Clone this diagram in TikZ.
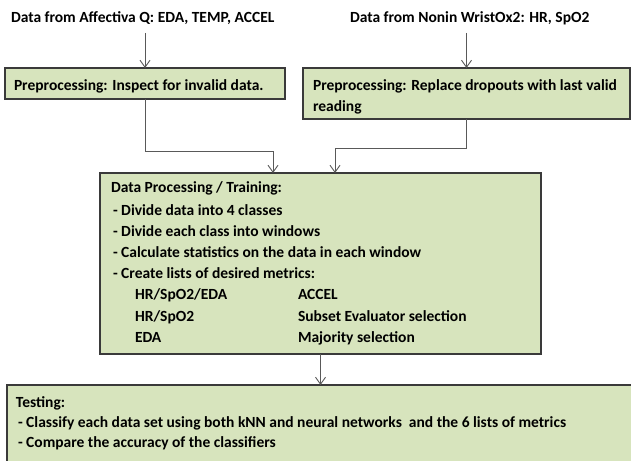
\documentclass[tikz,border=0pt]{standalone}
\usepackage{fontspec}
\setmainfont{Carlito}
\usetikzlibrary{arrows.meta,shadows}
\definecolor{boxfill}{HTML}{D7E4BD}
\definecolor{boxline}{HTML}{3A3A3A}
\definecolor{arrline}{HTML}{595959}
\tikzset{
  box/.style={draw=boxline, line width=1.1pt, fill=boxfill, inner sep=0pt, outer sep=0pt, anchor=north west,
    drop shadow={shadow xshift=0.6pt, shadow yshift=-1.2pt, fill=black!50, opacity=1}},
  txt/.style={inner sep=0pt, outer sep=0pt, anchor=base west, font=\fontsize{15.5}{18}\selectfont\bfseries, text=black},
  arr/.style={draw=arrline, line width=1pt, -{Straight Barb[length=7pt,width=10pt,line width=0.9pt]}},
  con/.style={draw=arrline, line width=1pt}
}
\begin{document}
\begin{tikzpicture}[x=1pt,y=-1pt]
\useasboundingbox (0,0) rectangle (631,460);
\clip (0,0) rectangle (631,460);
% headers
\node[txt] (h1) at (11,22.5) {Data from Affectiva Q: EDA, TEMP, ACCEL};
\node[txt] (h2) at (350,22.5) {Data from Nonin WristOx2: HR, SpO2};
% boxes
\node[box, minimum width=280pt, minimum height=31pt] (b1) at (5,68) {};
\node[box, minimum width=327pt, minimum height=51pt] (b2) at (303,68) {};
\node[box, minimum width=441pt, minimum height=181pt] (b3) at (100,173) {};
\node[box, minimum width=640pt, minimum height=90pt] (b4) at (7,385) {};
% box texts
\node[txt] (t1) at (14,90) {Preprocessing: Inspect for invalid data.};
\node[txt] (t2a) at (313,90) {Preprocessing: Replace dropouts with last valid};
\node[txt] (t2b) at (313,111) {reading};
\node[txt] (p1) at (111,192.5) {Data Processing / Training:};
\node[txt] (p2) at (113,215) {- Divide data into 4 classes};
\node[txt] (p3) at (113,236) {- Divide each class into windows};
\node[txt] (p4) at (113,257) {- Calculate statistics on the data in each window};
\node[txt] (p5) at (113,278.5) {- Create lists of desired metrics:};
\node[txt] (q1) at (135,299.5) {HR/SpO2/EDA};
\node[txt] (q2) at (135,321) {HR/SpO2};
\node[txt] (q3) at (135,342.5) {EDA};
\node[txt] (r1) at (298,299.5) {ACCEL};
\node[txt] (r2) at (298,321) {Subset Evaluator selection};
\node[txt] (r3) at (298,342.5) {Majority selection};
\node[txt] (s1) at (16,407.5) {Testing:};
\node[txt] (s2) at (18,427.5) {- Classify each data set using both kNN and neural networks\ \ and the 6 lists of metrics};
\node[txt] (s3) at (18,447.5) {- Compare the accuracy of the classifiers};
% connectors
\coordinate (m1) at (273,151);
\coordinate (m2) at (335,148);
\draw[arr] (b1.north |- 0,33) -- (b1.north);
\draw[arr] (b2.north |- 0,33) -- (b2.north);
\draw[arr] (b1.south) |- (m1) -- (m1 |- b3.north);
\draw[arr] (b2.south) |- (m2) -- (m2 |- b3.north);
\draw[arr] (b3.south) -- (b3.south |- b4.north);
\end{tikzpicture}
\end{document}
